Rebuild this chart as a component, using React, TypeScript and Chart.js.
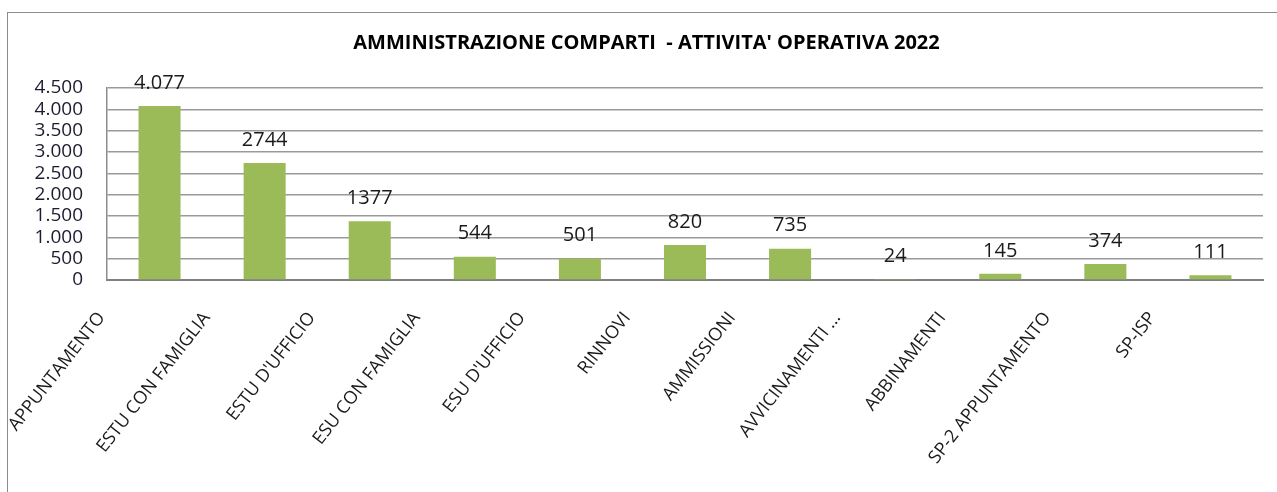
import React, { useEffect, useRef } from "react";
import { Chart, registerables } from "chart.js";

Chart.register(...registerables);

const categories = [
  "APPUNTAMENTO",
  "ESTU CON FAMIGLIA",
  "ESTU D'UFFICIO",
  "ESU CON FAMIGLIA",
  "ESU D'UFFICIO",
  "RINNOVI",
  "AMMISSIONI",
  "AVVICINAMENTI ...",
  "ABBINAMENTI",
  "SP-2 APPUNTAMENTO",
  "SP-ISP",
];
const values = [4077, 2744, 1377, 544, 501, 820, 735, 24, 145, 374, 111];
const valueLabels = ["4.077", "2744", "1377", "544", "501", "820", "735", "24", "145", "374", "111"];
const yTickValues = [0, 500, 1000, 1500, 2000, 2500, 3000, 3500, 4000, 4500];
const yTickLabels = ["0", "500", "1.000", "1.500", "2.000", "2.500", "3.000", "3.500", "4.000", "4.500"];
const chartTitle = "AMMINISTRAZIONE COMPARTI  - ATTIVITA' OPERATIVA 2022";

const FONT = "'Open Sans', 'DejaVu Sans', sans-serif";

const frameAndLabels = {
  id: "frameAndLabels",
  beforeDraw(chart: any) {
    const { ctx, width, height } = chart;
    ctx.save();
    ctx.fillStyle = "#ffffff";
    ctx.fillRect(0, 0, width, height);
    ctx.strokeStyle = "#8c8c8c";
    ctx.lineWidth = 1;
    ctx.strokeRect(7.5, 12.5, width + 20, height + 20);
    ctx.restore();
  },
  afterDatasetsDraw(chart: any) {
    const { ctx } = chart;
    const meta = chart.getDatasetMeta(0);
    ctx.save();
    ctx.font = `20px ${FONT}`;
    ctx.fillStyle = "#1a1a1a";
    ctx.textAlign = "center";
    ctx.textBaseline = "middle";
    meta.data.forEach((bar: any, i: number) => {
      ctx.fillText(valueLabels[i], bar.x, bar.y - 23);
    });
    ctx.restore();
  },
};

export default function App() {
  const canvasRef = useRef<HTMLCanvasElement | null>(null);

  useEffect(() => {
    if (!canvasRef.current) return;
    const chart = new Chart(canvasRef.current, {
      type: "bar",
      data: {
        labels: categories,
        datasets: [
          {
            data: values,
            backgroundColor: "#9BBB59",
            borderWidth: 0,
            barPercentage: 0.4,
            categoryPercentage: 1,
          },
        ],
      },
      options: {
        responsive: false,
        animation: false,
        layout: { padding: { left: 30, right: 14, top: 0, bottom: 0 } },
        plugins: {
          legend: { display: false },
          tooltip: { enabled: false },
          title: {
            display: true,
            text: chartTitle,
            color: "#000000",
            font: { family: FONT, size: 20, weight: "bold" },
            padding: { top: 31, bottom: 33 },
          },
        },
        scales: {
          x: {
            grid: { display: false, drawTicks: false },
            border: { display: true, color: "#808080", width: 2 },
            ticks: {
              color: "#1a1a1a",
              font: { family: FONT, size: 18 },
              maxRotation: 52,
              minRotation: 52,
              autoSkip: false,
              padding: 28,
              labelOffset: -58,
            },
            afterFit(scale: any) {
              scale.height = 212;
            },
          },
          y: {
            min: 0,
            max: 4500,
            afterBuildTicks(scale: any) {
              scale.ticks = yTickValues.map((v) => ({ value: v }));
            },
            grid: { color: "#9a9a9a", lineWidth: 1.5, drawTicks: false },
            border: { display: true, color: "#8c8c8c", width: 1.5 },
            ticks: {
              color: "#1c1c2e",
              font: { family: FONT, size: 19 },
              padding: 24,
              autoSkip: false,
              callback: (_v: any, i: number) => yTickLabels[i],
            },
            afterFit(scale: any) {
              scale.width = 77;
            },
          },
        },
      },
      plugins: [frameAndLabels],
    });
    return () => chart.destroy();
  }, []);

  return (
    <div style={{ position: "absolute", left: 0, top: 0, width: 1277, height: 492 }}>
      <canvas ref={canvasRef} width={1277} height={492} style={{ width: 1277, height: 492 }} />
    </div>
  );
}
